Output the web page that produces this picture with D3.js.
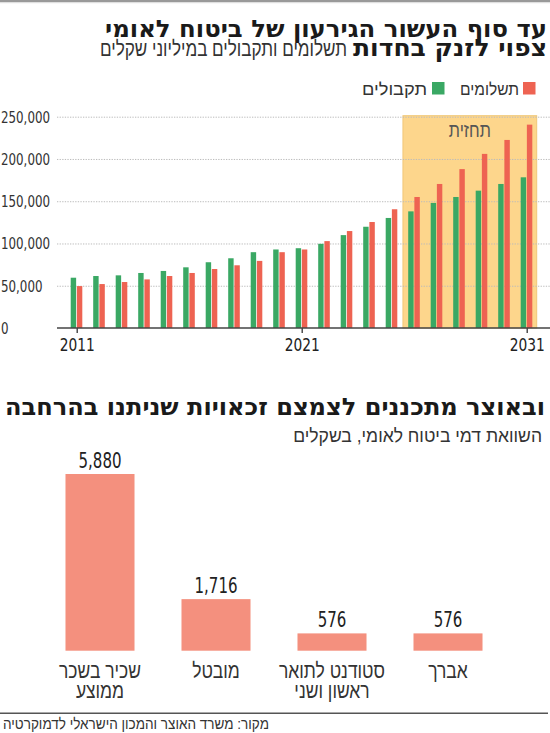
<!DOCTYPE html>
<html><head><meta charset="utf-8">
<script src="https://cdn.jsdelivr.net/npm/d3@7"></script>
<style>
body{margin:0;background:#fff}
svg{display:block}
</style></head><body>
<svg id="c" width="550" height="733"></svg>
<script>
// ---------- DATA ----------
const years = [2011,2012,2013,2014,2015,2016,2017,2018,2019,2020,2021,2022,2023,2024,2025,2026,2027,2028,2029,2030,2031];
const receipts = [59500,61500,62300,65100,67500,71800,77800,82500,89700,92900,94400,99600,109900,119800,130200,138000,148000,155000,162500,170400,178300]; // תקבולים
const payments = [49600,52000,54400,57500,61500,65100,69800,74200,79400,89700,92900,102800,114700,125400,140500,155000,170400,188000,206000,222500,240600]; // תשלומים
const forecastFrom = 2026;
const yTicks = [0,50000,100000,150000,200000,250000];
const xTicks = [2011,2021,2031];
const seriesNames = ["תקבולים","תשלומים"];

const categories = ["שכיר בשכר ממוצע","מובטל","סטודנט לתואר ראשון ושני","אברך"];
const categoryLines = [["שכיר בשכר","ממוצע"],["מובטל"],["סטודנט לתואר","ראשון ושני"],["אברך"]];
const fees = [5880,1716,576,576];

// ---------- STYLE ----------
const GREEN = "#3aa864", RED = "#ee6352", SALMON = "#f4907e", BAND = "#fdd68c";
const NUM = "'DejaVu Sans Condensed','DejaVu Sans',sans-serif";
const HEB = "'Liberation Sans','DejaVu Sans',sans-serif";
const HEBB = "'DejaVu Sans Condensed','DejaVu Sans',sans-serif";

const svg = d3.select("#c");

function fit(sel, w){ sel.attr("textLength", w).attr("lengthAdjust","spacingAndGlyphs"); return sel; }
function squeezeTo(sel, refText, refW){
  const tmp = svg.append("text").attr("font-family", sel.attr("font-family")).attr("font-size", sel.attr("font-size")).attr("font-weight", sel.attr("font-weight")).text(refText);
  const r = refW / tmp.node().getComputedTextLength();
  tmp.remove();
  sel.each(function(){ const L=this.getComputedTextLength(); this.setAttribute("textLength", L*r); this.setAttribute("lengthAdjust","spacingAndGlyphs"); });
}
// horizontally scale a right-anchored text to a given width (no textLength)
function scaledRight(xr, yb, w, attrs, str){
  const g = svg.append("g");
  const t = g.append("text").attr("x",0).attr("y",0).attr("text-anchor","end").text(str);
  Object.entries(attrs).forEach(([k,v])=>t.attr(k,v));
  const s = w / t.node().getComputedTextLength();
  g.attr("transform",`translate(${xr},${yb}) scale(${s},1)`);
  return t;
}

// top rule
svg.append("rect").attr("x",0).attr("y",0).attr("width",550).attr("height",2.2).attr("fill","#999");
svg.append("rect").attr("x",0).attr("y",2.2).attr("width",550).attr("height",1).attr("fill","#ddd");

// titles
fit(svg.append("text").attr("x",547).attr("y",37).attr("text-anchor","end")
  .attr("font-family",HEBB).attr("font-weight","bold").attr("font-size",24).attr("fill","#1a1a1a")
  .text("עד סוף העשור הגירעון של ביטוח לאומי"), 442);
fit(svg.append("text").attr("x",547).attr("y",56).attr("text-anchor","end")
  .attr("font-family",HEBB).attr("font-weight","bold").attr("font-size",24).attr("fill","#1a1a1a")
  .text("צפוי לזנק בחדות"), 194);
fit(svg.append("text").attr("x",347).attr("y",56).attr("text-anchor","end")
  .attr("font-family",HEB).attr("font-size",21).attr("fill","#333")
  .text("תשלומים ותקבולים במיליוני שקלים"), 247);

// legend
const legend = [{name:seriesNames[1], color:RED, sx:523, tx:519, w:59},{name:seriesNames[0], color:GREEN, sx:432, tx:427, w:65}];
legend.forEach(l=>{
  svg.append("rect").attr("x",l.sx).attr("y",82).attr("width",12.5).attr("height",12.5).attr("fill",l.color);
  fit(svg.append("text").attr("x",l.tx).attr("y",94.5).attr("text-anchor","end")
    .attr("font-family",HEB).attr("font-size",17).attr("fill","#333").text(l.name), l.w);
});

// ---------- TOP CHART ----------
const x0 = 57, x1 = 550;
const yTop = d3.scaleLinear().domain([0,250000]).range([328,116.7]);
const xYear = d3.scaleLinear().domain([years[0], years[years.length-1]]).range([76.7,526.7]);
const sub = d3.scaleBand().domain(["r","p"]).range([-6,5.6]).paddingInner(0.12);

// forecast band
const bx = xYear(forecastFrom - 0.5), bxe = xYear(years[years.length-1]) + 10;
svg.append("rect").attr("x",bx).attr("y",yTop(251200)).attr("width",bxe-bx).attr("height",yTop(0)-yTop(251200))
  .attr("fill",BAND).attr("stroke","#f1c878").attr("stroke-width",1);

// grid + y labels
const gy = svg.append("g").attr("transform",`translate(${x0},0)`)
  .call(d3.axisLeft(yTop).tickValues(yTicks).tickSize(-(x1-x0)).tickPadding(0).tickFormat(d3.format(",")));
gy.select(".domain").remove();
gy.selectAll(".tick line").attr("stroke","#bbb").attr("stroke-dasharray","1.3,1.3").attr("stroke-width",1)
  .filter(d=>d===0).remove();
const ylab = gy.selectAll(".tick text").attr("x",-x0+1).attr("text-anchor","start").attr("dy","0.36em")
  .attr("font-family",NUM).attr("font-size",15).attr("fill","#333");
squeezeTo(ylab, "250,000", 49);

// label "תחזית"
fit(svg.append("text").attr("x",(bx+bxe)/2).attr("y",137).attr("text-anchor","middle")
  .attr("font-family",HEB).attr("font-size",20).attr("fill","#555").text("תחזית"), 42);

// bars
const rows = years.map((y,i)=>({year:y, r:receipts[i], p:payments[i]}));
const gb = svg.append("g");
gb.selectAll("rect.r").data(rows).join("rect").attr("class","r")
  .attr("x",d=>xYear(d.year)+sub("r")).attr("width",sub.bandwidth())
  .attr("y",d=>yTop(d.r)).attr("height",d=>yTop(0)-yTop(d.r)).attr("fill",GREEN);
gb.selectAll("rect.p").data(rows).join("rect").attr("class","p")
  .attr("x",d=>xYear(d.year)+sub("p")).attr("width",sub.bandwidth())
  .attr("y",d=>yTop(d.p)).attr("height",d=>yTop(0)-yTop(d.p)).attr("fill",RED);

// x axis
const gx = svg.append("g").attr("transform",`translate(0,${yTop(0)})`)
  .call(d3.axisBottom(xYear).tickValues(xTicks).tickFormat(d3.format("d")).tickSize(5).tickPadding(5));
gx.select(".domain").remove();
gx.selectAll(".tick line").attr("stroke","#333").attr("stroke-width",1.3);
const xlab = gx.selectAll(".tick text").attr("font-family",NUM).attr("font-size",18).attr("fill","#222");
squeezeTo(xlab, "2011", 35);
svg.append("line").attr("x1",x0).attr("x2",x1).attr("y1",yTop(0)).attr("y2",yTop(0)).attr("stroke","#444").attr("stroke-width",1.6);

// ---------- BOTTOM CHART ----------
fit(svg.append("text").attr("x",545).attr("y",415).attr("text-anchor","end")
  .attr("font-family",HEBB).attr("font-weight","bold").attr("font-size",24).attr("fill","#1a1a1a")
  .text("ובאוצר מתכננים לצמצם זכאויות שניתנו בהרחבה"), 540);
scaledRight(542, 442, 249, {"font-family":HEB, "font-size":19, "fill":"#333"}, "השוואת דמי ביטוח לאומי, בשקלים");

const xCat = d3.scaleBand().domain(categories).range([42,506]).paddingInner(0.405).paddingOuter(0.2025);
const yBot = d3.scaleLinear().domain([0,5880]).range([650.7,474]);
const rowsB = categories.map((c,i)=>({c, v:fees[i], lines:categoryLines[i]}));

svg.append("g").selectAll("rect").data(rowsB).join("rect")
  .attr("x",d=>xCat(d.c)).attr("width",xCat.bandwidth())
  .attr("y",d=>yBot(d.v)).attr("height",d=>yBot(0)-yBot(d.v)).attr("fill",SALMON);

const vl = svg.append("g").selectAll("text").data(rowsB).join("text")
  .attr("x",d=>xCat(d.c)+xCat.bandwidth()/2).attr("y",d=>yBot(d.v)-6).attr("text-anchor","middle")
  .attr("font-family",NUM).attr("font-size",22).attr("fill","#222").text(d=>d3.format(",")(d.v));
squeezeTo(vl, "5,880", 43);

const lineData = rowsB.flatMap(d=>d.lines.map((t,j)=>({c:d.c, t, j})));
const cl = svg.append("g").selectAll("text").data(lineData).join("text")
  .attr("x",d=>xCat(d.c)+xCat.bandwidth()/2).attr("y",d=>678+d.j*20).attr("text-anchor","middle")
  .attr("font-family",HEB).attr("font-size",21).attr("fill","#333").text(d=>d.t);
squeezeTo(cl, "שכיר בשכר", 82);

// bottom rule + source
svg.append("line").attr("x1",0).attr("x2",548).attr("y1",713.3).attr("y2",713.3).attr("stroke","#555").attr("stroke-width",1.5);
fit(svg.append("text").attr("x",3).attr("y",729).attr("text-anchor","start")
  .attr("font-family",HEB).attr("font-size",15.5).attr("fill","#333")
  .text("מקור: משרד האוצר והמכון הישראלי לדמוקרטיה"), 266);
</script>
</body></html>
